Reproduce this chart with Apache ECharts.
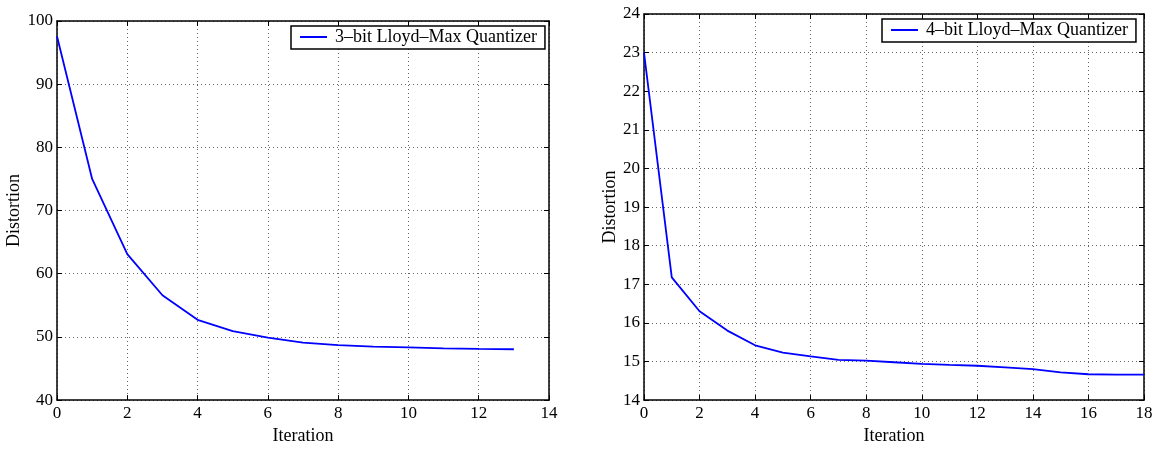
<!DOCTYPE html>
<html>
<head>
<meta charset="utf-8">
<script src="https://cdn.jsdelivr.net/npm/echarts@6/dist/echarts.min.js"></script>
<style>html,body{margin:0;padding:0;background:#fff}#c{width:1159px;height:450px}</style>
</head>
<body>
<div id="c"></div>
<script>
const iter3 = [0,1,2,3,4,5,6,7,8,9,10,11,12,13];
const dist3 = [97.6,75.0,63.1,56.6,52.7,50.9,49.9,49.1,48.7,48.45,48.35,48.2,48.1,48.05];
const iter4 = [0,1,2,3,4,5,6,7,8,9,10,11,12,13,14,15,16,17,18];
const dist4 = [23.0,17.18,16.30,15.80,15.42,15.23,15.13,15.04,15.02,14.98,14.94,14.91,14.89,14.85,14.80,14.72,14.67,14.66,14.66];
const name3 = '3\u2013bit Lloyd\u2013Max Quantizer';
const name4 = '4\u2013bit Lloyd\u2013Max Quantizer';
const xTitle = 'Iteration';
const yTitle = 'Distortion';

const FONT = 'Liberation Serif';
const grid = { color: '#666', width: 1, type: [1, 3] };

function xAx(gi, min, max, pos, main) {
  return {
    type: 'value', gridIndex: gi, min: min, max: max, interval: 2, position: pos,
    name: main ? xTitle : '', nameLocation: 'middle', nameGap: 20,
    nameTextStyle: { fontFamily: FONT, fontSize: 18, color: '#000' },
    axisLine: { show: true, onZero: false, lineStyle: { color: '#000', width: 1.5 } },
    axisTick: { show: true, inside: true, length: 5, lineStyle: { color: '#000' } },
    axisLabel: { show: main, fontFamily: FONT, fontSize: 17, color: '#000', margin: 5 },
    splitLine: { show: main, lineStyle: grid }
  };
}
function yAx(gi, min, max, step, pos, main, gap) {
  return {
    type: 'value', gridIndex: gi, min: min, max: max, interval: step, position: pos,
    name: main ? yTitle : '', nameLocation: 'middle', nameGap: gap,
    nameTextStyle: { fontFamily: FONT, fontSize: 18, color: '#000' },
    axisLine: { show: true, onZero: false, lineStyle: { color: '#000', width: 1.5 } },
    axisTick: { show: true, inside: true, length: 5, lineStyle: { color: '#000' } },
    axisLabel: { show: main, fontFamily: FONT, fontSize: 17, color: '#000', margin: 4 },
    splitLine: { show: main, lineStyle: grid }
  };
}
const legendCommon = {
  orient: 'horizontal', backgroundColor: '#fff', borderColor: '#000', borderWidth: 1.5,
  padding: [2, 8, 3, 9], itemWidth: 27, itemHeight: 14, itemGap: 0,
  textStyle: { fontFamily: FONT, fontSize: 18, color: '#000', padding: [0, 0, 0, 3] },
  icon: 'path://M0,6 L27,6 L27,8 L0,8 Z', inactiveColor: '#00f'
};

const chart = echarts.init(document.getElementById('c'), null, { renderer: 'canvas' });
chart.setOption({
  animation: false,
  backgroundColor: '#fff',
  grid: [
    { left: 57, top: 21, width: 492, height: 388 },
    { left: 644, top: 14, width: 500, height: 394 }
  ],
  xAxis: [
    xAx(0, 0, 14, 'bottom', true), xAx(0, 0, 14, 'top', false),
    xAx(1, 0, 18, 'bottom', true), xAx(1, 0, 18, 'top', false)
  ],
  yAxis: [
    yAx(0, 40, 100, 10, 'left', true, 30), yAx(0, 40, 100, 10, 'right', false, 0),
    yAx(1, 14, 24, 1, 'left', true, 23), yAx(1, 14, 24, 1, 'right', false, 0)
  ],
  legend: [
    Object.assign({}, legendCommon, { left: 291, top: 26, data: [name3] }),
    Object.assign({}, legendCommon, { left: 882, top: 19, data: [name4] })
  ],
  series: [
    { name: name3, type: 'line', xAxisIndex: 0, yAxisIndex: 0, showSymbol: false, symbol: 'none',
      lineStyle: { color: '#0000ff', width: 1.8 }, itemStyle: { color: '#0000ff' },
      data: iter3.map((x, i) => [x, dist3[i]]) },
    { name: name4, type: 'line', xAxisIndex: 2, yAxisIndex: 2, showSymbol: false, symbol: 'none',
      lineStyle: { color: '#0000ff', width: 1.8 }, itemStyle: { color: '#0000ff' },
      data: iter4.map((x, i) => [x, dist4[i]]) }
  ]
});
</script>
</body>
</html>
